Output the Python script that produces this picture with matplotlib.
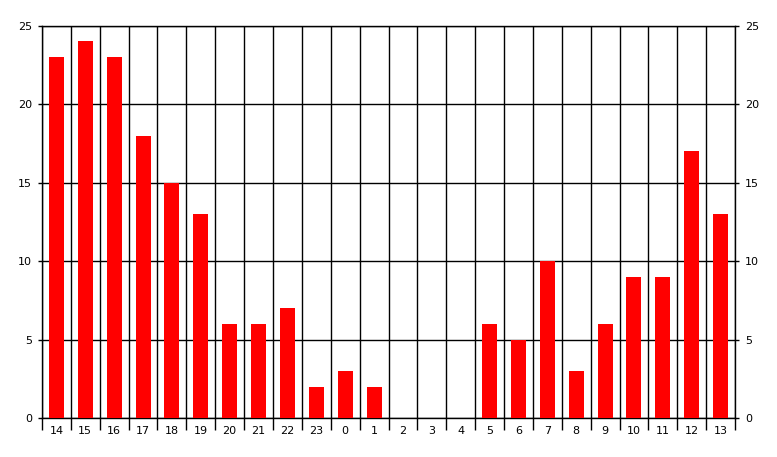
import matplotlib
matplotlib.use('Agg')
import matplotlib.pyplot as plt
import numpy as np

hours = ['14', '15', '16', '17', '18', '19', '20', '21', '22', '23', '0', '1',
         '2', '3', '4', '5', '6', '7', '8', '9', '10', '11', '12', '13']
counts = [23, 24, 23, 18, 15, 13, 6, 6, 7, 2, 3, 2,
          0, 0, 0, 6, 5, 10, 3, 6, 9, 9, 17, 13]

fig = plt.figure(figsize=(7.77, 4.57), dpi=100)
ax = fig.add_axes([0.054, 0.085, 0.892, 0.859])

x = np.arange(len(hours))
ax.bar(x, counts, width=0.52, color='#ff0000', zorder=3)

ax.set_xlim(-0.5, len(hours) - 0.5)
ax.set_ylim(0, 25)
ax.set_xticks(x)
ax.set_xticklabels(hours)
ax.set_xticks(np.arange(len(hours) + 1) - 0.5, minor=True)
ax.set_yticks([0, 5, 10, 15, 20, 25])

ax.tick_params(axis='x', which='major', length=0, pad=6, labelsize=8)
ax.tick_params(axis='x', which='minor', length=8.5, width=1, color='black')
ax.tick_params(axis='y', which='major', length=3, width=1, left=True, right=True,
               labelleft=True, labelright=True, labelsize=8, pad=4)

ax.grid(True, axis='y', which='major', color='black', linewidth=1, zorder=1)
ax.grid(True, axis='x', which='minor', color='black', linewidth=1, zorder=1)
ax.set_axisbelow(True)

for s in ax.spines.values():
    s.set_linewidth(1)
    s.set_color('black')

fig.savefig('out.png', dpi=100)
